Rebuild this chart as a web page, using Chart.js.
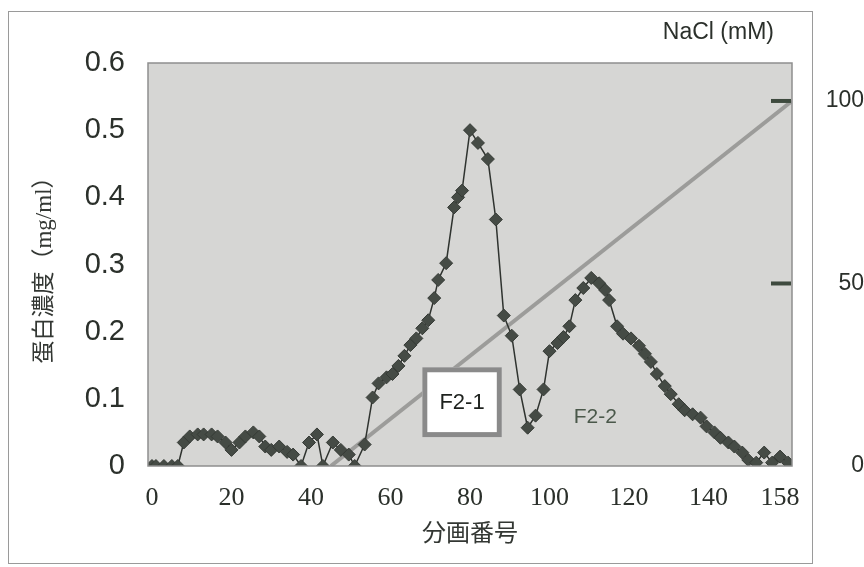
<!DOCTYPE html>
<html>
<head>
<meta charset="utf-8">
<script src="https://cdn.jsdelivr.net/npm/chart.js@4"></script>
<style>
  html, body { margin: 0; padding: 0; background: #fff; }
  #wrap { position: relative; width: 864px; height: 567px; }
  #frame { position: absolute; left: 8px; top: 11px; width: 803px; height: 551px; border: 1px solid #9a9a9a; pointer-events: none; }
</style>
</head>
<body>
<div id="wrap">
  <div id="frame"></div>
  <canvas id="chart" width="864" height="567"></canvas>
</div>
<script>
// fraction number of each sample and its protein concentration (mg/ml)
const fractions = [0, 1, 3, 5, 6.5, 8, 9.5, 11.5, 13, 15, 16.5, 18.5, 20, 22, 23.5, 25.5, 27, 28.5, 30, 32,
    34, 35.5, 37.5, 39.5, 41.5, 43, 45.5, 47.5, 49.5, 51, 53.5, 55.5, 57, 59, 60.5, 62, 63.5, 65, 66.5, 68,
    69.5, 71, 72, 74, 76, 77, 78, 80, 82, 84.5, 86.5, 88.5, 90.5, 92.5, 94.5, 96.5, 98.5, 100, 102, 103.5,
    105, 106.5, 108.5, 110.5, 112.5, 114, 115, 117, 118.5, 120.5, 122.5, 124, 125.5, 127, 129, 130.5, 132.5, 134, 136, 138,
    139.5, 141.5, 143, 145, 146.5, 148.5, 150, 152, 154, 156, 158, 160]
const protein = [0, 0, 0, 0, 0, 0.035, 0.044, 0.047, 0.047, 0.047, 0.044, 0.035, 0.024, 0.035, 0.044, 0.05, 0.044, 0.029, 0.024, 0.029,
    0.021, 0.017, 0, 0.035, 0.047, 0, 0.035, 0.024, 0.017, 0, 0.032, 0.102, 0.123, 0.132, 0.137, 0.149, 0.164, 0.18, 0.19, 0.205,
    0.217, 0.25, 0.277, 0.302, 0.385, 0.4, 0.41, 0.5, 0.481, 0.457, 0.367, 0.224, 0.194, 0.114, 0.057, 0.075, 0.114, 0.171, 0.183, 0.192,
    0.208, 0.247, 0.265, 0.28, 0.272, 0.262, 0.247, 0.208, 0.197, 0.19, 0.179, 0.167, 0.155, 0.137, 0.119, 0.107, 0.092, 0.083, 0.077, 0.072,
    0.059, 0.05, 0.042, 0.035, 0.029, 0.02, 0.009, 0.005, 0.02, 0.005, 0.014, 0.005]

// NaCl gradient (mM)
const gradientFractions = [45, 161]
const gradientNaCl = [0, 100]

const xTicks = [0, 20, 40, 60, 80, 100, 120, 140, 158]
const naclTicks = [0, 50, 100]
const naclDashTicks = [50, 100]

const textColor = '#2b302b'

const plotBackground = {
    id: 'plotBackground',
    beforeDatasetsDraw(chart) {
        const { ctx, chartArea: a } = chart
        ctx.save()
        ctx.fillStyle = '#d6d6d4'
        ctx.fillRect(a.left, a.top, a.right - a.left, a.bottom - a.top)
        ctx.restore()
    },
    afterDatasetsDraw(chart) {
        const { ctx, chartArea: a, scales } = chart
        ctx.save()
        ctx.strokeStyle = '#8e8e8e'
        ctx.lineWidth = 1.5
        ctx.strokeRect(a.left, a.top, a.right - a.left, a.bottom - a.top)

        // dashes for the NaCl axis
        ctx.strokeStyle = '#3e4a3e'
        ctx.lineWidth = 4
        naclDashTicks.forEach(v => {
            const y = scales.y2.getPixelForValue(v)
            ctx.beginPath()
            ctx.moveTo(a.right - 21, y)
            ctx.lineTo(a.right - 1, y)
            ctx.stroke()
        })

        // F2-1 box
        const x1 = scales.x.getPixelForValue(68)
        const x2 = scales.x.getPixelForValue(88)
        const y1 = scales.y.getPixelForValue(0.147)
        const y2 = scales.y.getPixelForValue(0.043)
        ctx.fillStyle = '#ffffff'
        ctx.fillRect(x1, y1, x2 - x1, y2 - y1)
        ctx.strokeStyle = '#8a8a8a'
        ctx.lineWidth = 5
        ctx.strokeRect(x1 + 2.5, y1 + 2.5, x2 - x1 - 5, y2 - y1 - 5)
        ctx.fillStyle = '#1e221e'
        ctx.font = "22px 'Liberation Sans', Arial, sans-serif"
        ctx.textAlign = 'center'
        ctx.textBaseline = 'middle'
        ctx.fillText('F2-1', (x1 + x2) / 2, (y1 + y2) / 2 + 1)

        // F2-2 label
        ctx.fillStyle = '#4a584a'
        ctx.font = "21px 'Liberation Sans', Arial, sans-serif"
        ctx.fillText('F2-2', scales.x.getPixelForValue(111.5), scales.y.getPixelForValue(0.072))

        // NaCl axis caption
        ctx.fillStyle = textColor
        ctx.font = "23px 'Liberation Sans', Arial, sans-serif"
        ctx.textAlign = 'right'
        ctx.fillText('NaCl (mM)', 774, 33)
        ctx.restore()
    }
}

new Chart(document.getElementById('chart').getContext('2d'), {
    type: 'line',
    data: {
        datasets: [{
            label: '蛋白濃度',
            data: fractions.map((f, i) => ({ x: f, y: protein[i] })),
            yAxisID: 'y',
            borderColor: '#2f332f',
            borderWidth: 1.5,
            pointStyle: 'rectRot',
            pointRadius: 6.5,
            pointBackgroundColor: '#454b45',
            pointBorderColor: '#363b36',
            pointBorderWidth: 1,
            order: 1
        }, {
            label: 'NaCl',
            data: gradientFractions.map((f, i) => ({ x: f, y: gradientNaCl[i] })),
            yAxisID: 'y2',
            borderColor: '#9c9c9a',
            borderWidth: 4,
            pointRadius: 0,
            order: 2
        }]
    },
    options: {
        responsive: false,
        animation: false,
        devicePixelRatio: 1,
        layout: { padding: { top: 63, left: 0, right: 0, bottom: 0 } },
        plugins: {
            legend: { display: false },
            tooltip: { enabled: false }
        },
        scales: {
            x: {
                type: 'linear',
                min: -1,
                max: 161,
                grid: { display: false, drawTicks: false },
                border: { display: false },
                afterBuildTicks: s => { s.ticks = xTicks.map(v => ({ value: v })) },
                afterFit: s => { s.height = 101 },
                ticks: {
                    autoSkip: false,
                    maxRotation: 0,
                    padding: 17,
                    color: textColor,
                    font: { family: "'Liberation Serif', 'DejaVu Serif', serif", size: 26 }
                },
                title: {
                    display: true,
                    text: '分画番号',
                    color: '#333733',
                    padding: { top: 0, bottom: 18 },
                    font: { family: "'Liberation Serif', 'Noto Sans CJK JP', serif", size: 24 }
                }
            },
            y: {
                position: 'left',
                min: 0,
                max: 0.6,
                grid: { display: false, drawTicks: false },
                border: { display: false },
                afterFit: s => { s.width = 148 },
                ticks: {
                    stepSize: 0.1,
                    padding: 23,
                    color: textColor,
                    font: { family: "'Liberation Sans', Arial, sans-serif", size: 29 }
                },
                title: {
                    display: true,
                    text: '蛋白濃度（mg/ml）',
                    color: '#333733',
                    padding: { top: 31, bottom: 0 },
                    font: { family: "'Liberation Serif', 'Noto Sans CJK JP', serif", size: 23 }
                }
            },
            y2: {
                position: 'right',
                min: 0,
                max: 110.4,
                grid: { display: false, drawTicks: false },
                border: { display: false },
                afterBuildTicks: s => { s.ticks = naclTicks.map(v => ({ value: v })) },
                afterFit: s => { s.width = 72 },
                ticks: {
                    padding: 31,
                    crossAlign: 'far',
                    color: textColor,
                    font: { family: "'Liberation Sans', Arial, sans-serif", size: 23 }
                }
            }
        }
    },
    plugins: [plotBackground]
})
</script>
</body>
</html>
